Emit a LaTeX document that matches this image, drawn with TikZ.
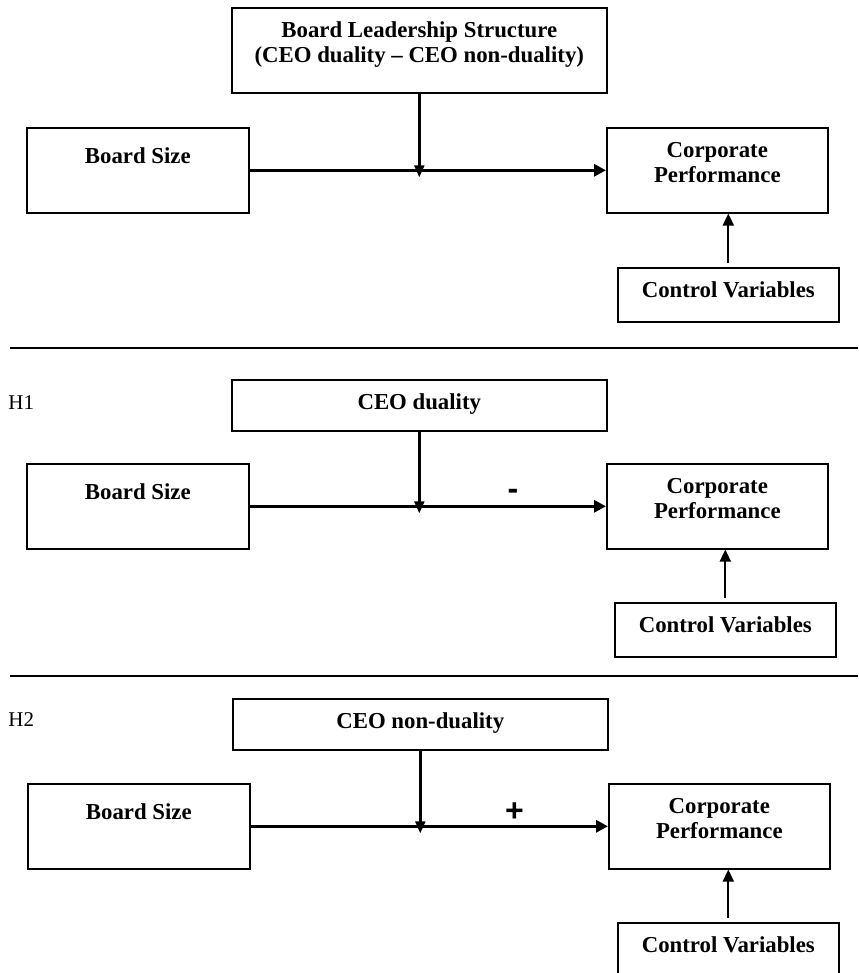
\documentclass[tikz,border=0pt]{standalone}
\usepackage{fontspec}
\setmainfont{Liberation Serif}
\newfontfamily\signfont{Liberation Sans}
\usetikzlibrary{arrows.meta}

\begin{document}
\begin{tikzpicture}[x=0.5pt, y=-0.5pt,
  varbox/.style n args={3}{draw, line width=0.8pt, inner sep=0pt, anchor=north west,
    font=\bfseries\fontsize{11.4}{12.8}\selectfont,
    execute at begin node={\begin{minipage}[c][#2][t]{#1}\centering\rule{0pt}{#3}},
    execute at end node={\end{minipage}}},
  mainarrow/.style={line width=1.5pt, -{Triangle[length=6pt,width=6pt]}},
  modarrow/.style={line width=1.2pt, -{Triangle[length=6pt,width=5pt]}, shorten >=-3.5pt},
  ctrlarrow/.style={line width=1.1pt, -{Triangle[length=6pt,width=5.5pt]}, shorten <=2pt},
  hyp/.style={anchor=west, inner sep=0pt, font=\fontsize{10.5}{12}\selectfont},
  sign/.style={inner sep=0pt, font=\signfont\bfseries\fontsize{16}{16}\selectfont},
  sep/.style={line width=0.7pt}]
\useasboundingbox (0,0) rectangle (858,973);

% overall model
\node[varbox={187.5pt}{42.5pt}{14.75pt}] (lead) at (231,7) {Board Leadership Structure\\(CEO duality -- CEO non-duality)};
\node[varbox={111pt}{42.5pt}{17.75pt}] (size1) at (26,127) {Board Size};
\node[varbox={110.5pt}{42.5pt}{14.75pt}] (perf1) at (606,127) {Corporate\\Performance};
\node[varbox={110.5pt}{27pt}{14.75pt}] (ctrl1) at (617,267) {Control Variables};
\coordinate (join1) at (lead.south |- size1.east);
\draw[mainarrow] (size1.east) -- (perf1.west);
\draw[modarrow] (lead.south) -- (join1);
\draw[ctrlarrow] (ctrl1.north) -- (ctrl1.north |- perf1.south);

\draw[sep] (10,348) -- (858,348);

% H1
\node[hyp] (h1) at (8,403) {H1};
\node[varbox={187.5pt}{25.5pt}{14.75pt}] (dual) at (231,379) {CEO duality};
\node[varbox={111pt}{42.5pt}{17.75pt}] (size2) at (26,463) {Board Size};
\node[varbox={110.5pt}{42.5pt}{14.75pt}] (perf2) at (606,463) {Corporate\\Performance};
\node[varbox={110.5pt}{27pt}{14.75pt}] (ctrl2) at (614,602) {Control Variables};
\coordinate (join2) at (dual.south |- size2.east);
\draw[mainarrow] (size2.east) -- (perf2.west);
\draw[modarrow] (dual.south) -- (join2);
\draw[ctrlarrow] (ctrl2.north) -- (ctrl2.north |- perf2.south);
\node[sign] (minus) at (513,494) {-};

\draw[sep] (10,676) -- (858,676);

% H2
\node[hyp] (h2) at (8,720) {H2};
\node[varbox={187.5pt}{25.5pt}{14.75pt}] (nondual) at (232,698) {CEO non-duality};
\node[varbox={111pt}{42.5pt}{17.75pt}] (size3) at (27,783) {Board Size};
\node[varbox={110.5pt}{42.5pt}{14.75pt}] (perf3) at (608,783) {Corporate\\Performance};
\node[varbox={110.5pt}{27pt}{14.75pt}] (ctrl3) at (617,922) {Control Variables};
\coordinate (join3) at (nondual.south |- size3.east);
\draw[mainarrow] (size3.east) -- (perf3.west);
\draw[modarrow] (nondual.south) -- (join3);
\draw[ctrlarrow] (ctrl3.north) -- (ctrl3.north |- perf3.south);
\node[sign] (plus) at (514.5,812) {+};
\end{tikzpicture}
\end{document}
